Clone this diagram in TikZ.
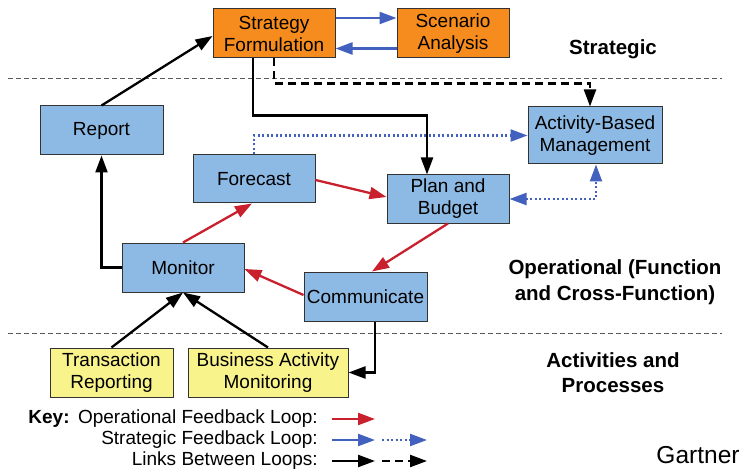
\documentclass[tikz,border=0pt]{standalone}
\usepackage{fontspec}
\setmainfont{Liberation Sans}
\usetikzlibrary{arrows.meta}
\definecolor{stratorange}{RGB}{247,140,30}
\definecolor{operblue}{RGB}{141,186,228}
\definecolor{actyellow}{RGB}{249,243,140}
\definecolor{loopred}{RGB}{200,32,45}
\definecolor{loopblue}{RGB}{66,96,190}
\begin{document}
\begin{tikzpicture}[x=1pt,y=-1pt]
    \newcommand{\boxh}{49pt} % height of the boxes
    \newcommand{\lw}{2.3pt} % width of the loop lines

    % set the styles of boxes and loops
    \tikzset{
        box/.style={draw=black!80, line width=1pt, inner sep=0pt, align=center,
            minimum height=\boxh, font=\fontsize{19}{22}\selectfont},
        strat/.style={box, fill=stratorange},
        oper/.style={box, fill=operblue},
        activ/.style={box, fill=actyellow},
        tip/.style={-{Triangle[length=17pt,width=12pt]}},
        bothtips/.style={{Triangle[length=17pt,width=12pt]}-{Triangle[length=17pt,width=12pt]}},
        opfeed/.style={tip, loopred, line width=\lw},
        stfeed/.style={tip, loopblue, line width=\lw},
        stdot/.style={stfeed, dash pattern=on 2pt off 2.5pt},
        link/.style={tip, black, line width=\lw},
        linkdash/.style={link, dash pattern=on 8pt off 5pt},
        layer/.style={black!65, line width=0.8pt, dash pattern=on 5pt off 3pt},
        layername/.style={font=\bfseries\fontsize{20.5}{25.5}\selectfont, align=center},
        keytext/.style={font=\fontsize{19}{22}\selectfont, anchor=east, inner sep=0pt}
    }

    \useasboundingbox (0,0) rectangle (743,470);

    % layers
    \draw[layer] (8,78) -- (722,78);
    \draw[layer] (8,333) -- (722,333);
    \node[layername] (lstrat) at (613,49) {Strategic};
    \node[layername] (loper) at (615,282) {Operational (Function\\and Cross-Function)};
    \node[layername] (lactiv) at (613,372.5) {Activities and\\Processes};

    % boxes
    \node[strat, minimum width=122pt] (sf) at (274,33.5) {Strategy\\Formulation};
    \node[strat, minimum width=112pt] (sa) at (453,33.5) {Scenario\\Analysis};
    \node[oper, minimum width=123pt] (rep) at (101.5,130.5) {Report};
    \node[oper, minimum width=122pt, minimum height=48pt] (fc) at (254,179) {Forecast};
    \node[oper, minimum width=134pt, minimum height=57pt] (abm) at (595,135.5) {Activity-Based\\Management};
    \node[oper, minimum width=122pt, minimum height=48pt] (pb) at (448,199) {Plan and\\Budget};
    \node[oper, minimum width=122pt] (mon) at (183,267.5) {Monitor};
    \node[oper, minimum width=123pt] (com) at (365.5,296.5) {Communicate};
    \node[activ, minimum width=123pt] (tr) at (111.5,372.5) {Transaction\\Reporting};
    \node[activ, minimum width=160pt] (bam) at (268,372.5) {Business Activity\\Monitoring};

    % strategic loop
    \draw[stfeed] ([yshift=15.5pt]sf.east) -- ([yshift=15.5pt]sa.west);
    \draw[stfeed] ([yshift=-15pt]sa.west) -- ([yshift=-15pt]sf.east);
    \draw[stdot] (fc.north) |- (abm.west);
    \draw[stdot, bothtips] (pb.east) -| ([xshift=1pt]abm.south);

    % operational loop
    \draw[opfeed] ([yshift=-1pt]fc.east) -- ([yshift=2pt]pb.west);
    \draw[opfeed] (mon.north) -- ([xshift=-2pt]fc.south);
    \draw[opfeed] (pb.south) -- ([xshift=6.5pt]com.north);
    \draw[opfeed] ([yshift=1.5pt]com.west) -- ([yshift=-1.5pt]mon.east);

    % links between loops
    \draw[link] (rep.north) -- ([yshift=-2.5pt]sf.west);
    \draw[link] (mon.west) -| (rep.south);
    \draw[link] ([xshift=-21pt]sf.south) -- ++(0,57) -| ([xshift=-21pt]pb.north);
    \draw[linkdash] (sf.south) -- ++(0,25) -| ([xshift=-5pt]abm.north);
    \draw[link] ([xshift=9.5pt]com.south) |- (bam.east);
    \draw[link] (tr.north) -- (mon.south);
    \draw[link] (bam.north) -- (mon.south);

    % key
    \node[keytext] (kop) at (318,419) {Operational Feedback Loop:};
    \node[keytext, font=\bfseries\fontsize{19}{22}\selectfont] (key) at ([xshift=-8pt]kop.west) {Key:};
    \node[keytext] (kst) at (318,440) {Strategic Feedback Loop:};
    \node[keytext] (kln) at (318,461) {Links Between Loops:};
    \coordinate (kop1) at (375,419);
    \coordinate (kst1) at (375,440);
    \coordinate (kst2) at (382,440);
    \coordinate (kst3) at (427,440);
    \coordinate (kln1) at (375,461);
    \coordinate (kln2) at (382,461);
    \coordinate (kln3) at (427,461);
    \draw[opfeed] ([xshift=14pt]kop.east) -- (kop1);
    \draw[stfeed] ([xshift=14pt]kst.east) -- (kst1);
    \draw[stdot] (kst2) -- (kst3);
    \draw[link] ([xshift=14pt]kln.east) -- (kln1);
    \draw[linkdash] (kln2) -- (kln3);

    \node[font=\fontsize{24.5}{28}\selectfont] (gartner) at (698,455) {Gartner};
\end{tikzpicture}
\end{document}
